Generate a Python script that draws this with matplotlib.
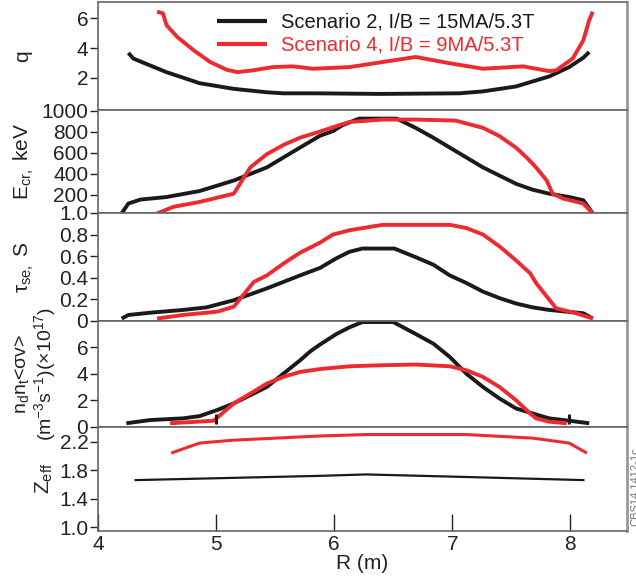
import matplotlib
matplotlib.use("Agg")
import matplotlib.pyplot as plt

plt.rcParams["font.family"] = ["Liberation Sans", "DejaVu Sans"]
plt.rcParams["mathtext.fontset"] = "custom"
plt.rcParams["mathtext.rm"] = "Liberation Sans"
plt.rcParams["mathtext.it"] = "Liberation Sans"

BLACK = "#1a1a1a"
RED = "#ec2a2f"

# --- q profile ---
q2_R = [4.257, 4.30, 4.58, 4.86, 5.15, 5.43, 5.57, 5.85, 6.38, 7.06, 7.26, 7.54, 7.82, 7.99, 8.11, 8.16]
q2_v = [3.68, 3.30, 2.39, 1.65, 1.27, 1.04, 0.97, 0.97, 0.93, 0.97, 1.10, 1.43, 2.10, 2.73, 3.36, 3.74]
q4_R = [4.50, 4.55, 4.58, 4.67, 4.81, 4.95, 5.09, 5.18, 5.31, 5.48, 5.65, 5.82, 6.13, 6.41, 6.69,
        6.97, 7.26, 7.60, 7.82, 7.88, 8.02, 8.11, 8.16, 8.19]
q4_v = [6.45, 6.34, 5.55, 4.76, 3.86, 3.07, 2.55, 2.39, 2.51, 2.73, 2.78, 2.62, 2.73, 3.07, 3.41,
        3.00, 2.62, 2.78, 2.46, 2.51, 3.30, 4.53, 5.88, 6.45]

# --- critical energy, keV ---
e2_R = [4.20, 4.257, 4.36, 4.58, 4.86, 5.15, 5.43, 5.57, 5.71, 5.88, 5.99, 6.07, 6.21, 6.53, 6.69,
        6.84, 6.98, 7.12, 7.26, 7.40, 7.54, 7.68, 7.82, 7.99, 8.11, 8.19]
e2_v = [21, 115, 153, 177, 234, 334, 459, 553, 647, 760, 804, 860, 923, 923, 835, 741, 647, 553,
        459, 381, 303, 247, 209, 177, 146, 21]
e4_R = [4.50, 4.64, 4.86, 5.15, 5.29, 5.43, 5.57, 5.71, 5.88, 5.99, 6.13, 6.41, 6.69, 7.03, 7.26,
        7.40, 7.54, 7.63, 7.71, 7.80, 7.85, 7.94, 8.11, 8.19]
e4_v = [21, 84, 130, 209, 459, 585, 672, 741, 800, 841, 891, 914, 914, 904, 835, 757, 647, 553,
        459, 334, 209, 162, 115, 21]

# --- slowing down time, s ---
t2_R = [4.20, 4.257, 4.44, 4.72, 4.92, 5.15, 5.43, 5.71, 5.88, 6.02, 6.13, 6.24, 6.51, 6.69, 6.84,
        6.98, 7.12, 7.26, 7.40, 7.54, 7.68, 7.82, 8.11, 8.19]
t2_v = [0.02, 0.053, 0.074, 0.10, 0.124, 0.19, 0.30, 0.42, 0.49, 0.58, 0.64, 0.67, 0.67, 0.59, 0.52,
        0.42, 0.35, 0.27, 0.21, 0.16, 0.124, 0.10, 0.069, 0.02]
t4_R = [4.50, 4.72, 5.01, 5.15, 5.32, 5.43, 5.57, 5.71, 5.88, 5.99, 6.13, 6.41, 6.69, 6.98, 7.12,
        7.26, 7.40, 7.54, 7.66, 7.71, 7.88, 8.05, 8.19]
t4_v = [0.02, 0.053, 0.084, 0.13, 0.36, 0.42, 0.53, 0.63, 0.725, 0.80, 0.84, 0.89, 0.89, 0.89, 0.86,
        0.80, 0.69, 0.56, 0.44, 0.35, 0.115, 0.069, 0.02]

# --- fusion rate n_d n_t <sigma v>, 1e17 ---
f2_R = [4.24, 4.44, 4.72, 4.86, 5.01, 5.15, 5.43, 5.57, 5.71, 5.80, 5.88, 6.02, 6.13, 6.24, 6.50,
        6.69, 6.84, 6.98, 7.12, 7.26, 7.40, 7.54, 7.68, 7.82, 7.99, 8.16]
f2_v = [0.26, 0.50, 0.63, 0.80, 1.26, 1.76, 3.0, 4.0, 5.0, 5.7, 6.2, 7.0, 7.5, 7.9, 7.9, 7.0, 6.27,
        5.26, 4.0, 3.0, 2.13, 1.38, 1.0, 0.63, 0.45, 0.26]
f4_R = [4.61, 4.98, 5.15, 5.29, 5.43, 5.57, 5.71, 5.88, 6.13, 6.41, 6.69, 6.98, 7.12, 7.26, 7.40,
        7.54, 7.66, 7.71, 7.82, 7.97]
f4_v = [0.26, 0.45, 1.76, 2.5, 3.26, 3.76, 4.13, 4.35, 4.56, 4.64, 4.69, 4.56, 4.26, 3.76, 3.0,
        2.0, 1.0, 0.63, 0.38, 0.26]
mark_R = [5.0, 7.99]
mark_v = [0.55, 0.6]

# --- Z_eff ---
z2_R = [4.31, 5.88, 6.27, 6.98, 8.12]
z2_v = [1.66, 1.72, 1.74, 1.71, 1.66]
z4_R = [4.62, 4.86, 5.14, 5.88, 6.27, 7.12, 7.68, 7.99, 8.14]
z4_v = [2.04, 2.18, 2.22, 2.28, 2.30, 2.30, 2.25, 2.18, 2.04]

panels = [
    dict(s2=(q2_R, q2_v), s4=(q4_R, q4_v), ylim=(-0.15, 7.1), ticks=[2, 4, 6],
         labels=["2", "4", "6"], ylabel="q", lx=-0.125),
    dict(s2=(e2_R, e2_v), s4=(e4_R, e4_v), ylim=(25, 1005), ticks=[200, 400, 600, 800, 1000],
         labels=["200", "400", "600", "800", "1000"], ylabel=r"E$_{\rm cr,}$ keV", lx=-0.118),
    dict(s2=(t2_R, t2_v), s4=(t4_R, t4_v), ylim=(0, 1.0), ticks=[0, 0.2, 0.4, 0.6, 0.8, 1.0],
         labels=["0", "0.2", "0.4", "0.6", "0.8", "1.0"], ylabel=r"$\tau_{\rm se,}$ S", lx=-0.118),
    dict(s2=(f2_R, f2_v), s4=(f4_R, f4_v), ylim=(0, 8), ticks=[0, 2, 4, 6],
         labels=["0", "2", "4", "6"],
         ylabel="n$_{\\rm d}$n$_{\\rm t}$<σv>\n(m$^{-3}$s$^{-1}$)(×10$^{17}$)", lx=-0.075),
    dict(s2=(z2_R, z2_v), s4=(z4_R, z4_v), ylim=(0.95, 2.41), ticks=[1.0, 1.4, 1.8, 2.2],
         labels=["1.0", "1.4", "1.8", "2.2"], ylabel=r"Z$_{\rm eff}$", lx=-0.082),
]

W, H = 636, 587
edges = [2, 110, 213, 320.7, 426.7, 530.7]
left, right = 98, 627

fig = plt.figure(figsize=(W / 100, H / 100), dpi=100)
axes = []
for i, p in enumerate(panels):
    top, bot = edges[i], edges[i + 1]
    ax = fig.add_axes([left / W, 1 - bot / H, (right - left) / W, (bot - top) / H])
    lw2, lw4 = (1.6, 2.2) if i == 4 else (2.8, 2.8)
    ax.plot(*p["s2"], color=BLACK, lw=lw2, solid_capstyle="butt",
            label="Scenario 2, I/B = 15MA/5.3T")
    ax.plot(*p["s4"], color=RED, lw=lw4, solid_capstyle="butt",
            label="Scenario 4, I/B = 9MA/5.3T")
    ax.set_xlim(4, 8.48)
    ax.set_ylim(*p["ylim"])
    ax.set_yticks(p["ticks"])
    ax.set_yticklabels(p["labels"])
    ax.tick_params(axis="y", direction="out", length=6, width=1, labelsize=15, pad=1,
                   colors="#222222")
    fs = 14 if i == 3 else 15
    ax.set_ylabel(p["ylabel"], fontsize=fs, color="#222222", linespacing=1.05)
    ax.yaxis.set_label_coords(p["lx"], 0.5)
    for side in ["left", "top", "bottom"]:
        ax.spines[side].set_color("#666666")
        ax.spines[side].set_linewidth(1.2)
    ax.spines["right"].set_color("#999999")
    ax.spines["right"].set_linewidth(2)
    if i < 4:
        ax.tick_params(axis="x", length=0, labelbottom=False)
    axes.append(ax)

axes[3].plot(mark_R, mark_v, linestyle="none", marker="|", markersize=7, mew=2.2, color=BLACK)

axb = axes[-1]
axb.set_xticks([4, 5, 6, 7, 8])
axb.tick_params(axis="x", direction="in", length=12, width=1, labelsize=15, pad=3,
                colors="#222222")
axb.set_xlabel("R (m)", fontsize=15, color="#222222", labelpad=0)

leg = axes[0].legend(loc="upper left", bbox_to_anchor=(0.19, 1.07), frameon=False,
                     fontsize=14.5, handlelength=2.5, handletextpad=0.7, labelspacing=0.2)
for txt, c in zip(leg.get_texts(), [BLACK, RED]):
    txt.set_color(c)
for line in leg.get_lines():
    line.set_linewidth(3)

fig.text(0.999, 1 - 447 / H, "CBS14.1412-1c", rotation=90, fontsize=8, color="#777777",
         ha="center", va="top")

fig.savefig("out.png", dpi=100)
